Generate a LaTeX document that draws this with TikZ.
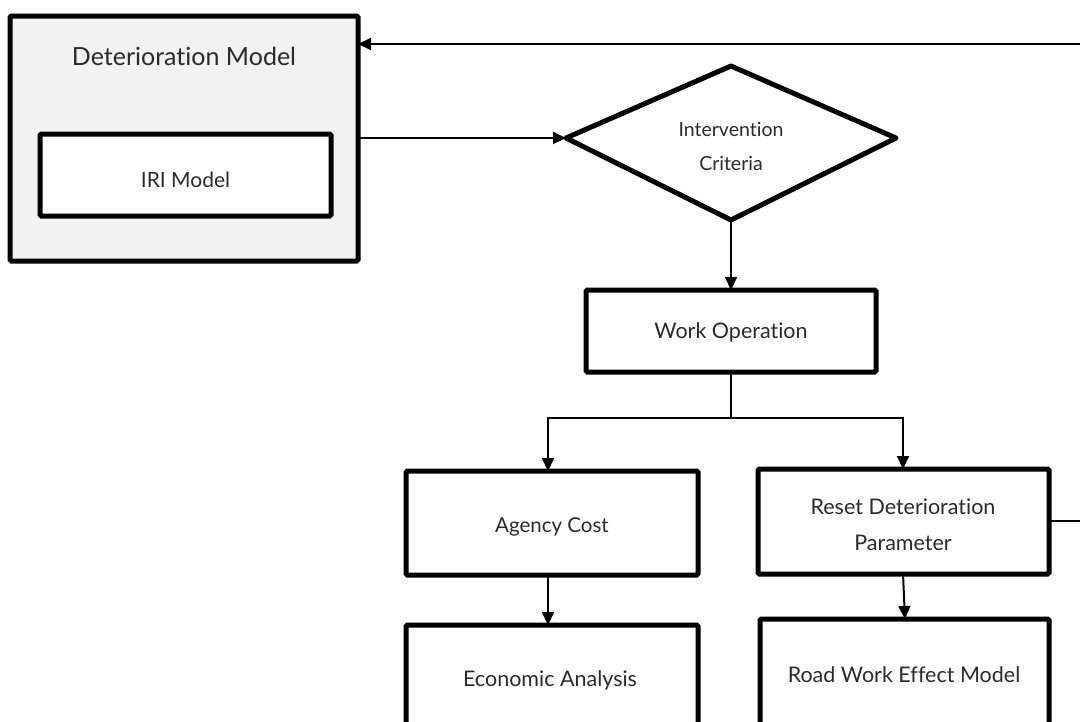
\documentclass[tikz,border=0pt]{standalone}
\usepackage{fontspec}
\setmainfont{Lato}[Ligatures={NoCommon,NoRequired}]
\usetikzlibrary{arrows.meta,shapes.geometric}
\definecolor{txt}{HTML}{2B2B2B}
\definecolor{panel}{HTML}{F2F2F2}
\begin{document}
\begin{tikzpicture}[x=1pt,y=-1pt,
  box/.style={draw=black,line width=5pt,rounded corners=1.5pt,fill=white,inner sep=0pt},
  lbl/.style={text=txt,font=\fontsize{21.5}{24}\selectfont,align=center},
  conn/.style={draw=black,line width=2pt,-{Triangle[length=13pt,width=12pt]}},
  plain/.style={draw=black,line width=2pt}]
\useasboundingbox (0,0) rectangle (1080,721);
\clip (0,0) rectangle (1080,721);
% outer deterioration box
\draw[box,fill=panel] (10,16) rectangle (358,261);
\coordinate (dmR1) at (358,44);
\coordinate (dmR2) at (358,138);
\node[lbl,font=\fontsize{25}{28}\selectfont] (dmt) at (184,56) {Deterioration Model};
\draw[box] (40,134) rectangle (331,216);
\node[lbl,font=\fontsize{21}{24}\selectfont] (iri) at (185.5,180) {IRI Model};
% diamond
\draw[draw=black,line width=5pt,line join=round,fill=white]
  (566,138) coordinate (dL) -- (731,66) coordinate (dT) -- (896,138) coordinate (dR) -- (731,220) coordinate (dB) -- cycle;
\node[lbl,font=\fontsize{19.5}{34}\selectfont] (ic) at (731,146) {Intervention\\Criteria};
% work operation
\draw[box] (586,290) rectangle (876,372);
\coordinate (woT) at (731,290);
\coordinate (woB) at (731,372);
\node[lbl] (wo) at (731,332) {Work Operation};
% agency cost
\draw[box] (406,471) rectangle (698,575);
\coordinate (acT) at (548,471);
\coordinate (acB) at (548,575);
\node[lbl,font=\fontsize{20.5}{24}\selectfont] (ac) at (552,527) {Agency Cost};
% reset
\draw[box] (758,469) rectangle (1049,574);
\coordinate (rsT) at (903,469);
\coordinate (rsB) at (903,574);
\coordinate (rsR) at (1049,521);
\node[lbl,font=\fontsize{21.5}{36}\selectfont] (rs) at (903,525) {Reset Deterioration\\Parameter};
% economic
\draw[box] (406,625) rectangle (698,760);
\coordinate (ecT) at (548,625);
\node[lbl] (ec) at (550,680) {Economic Analysis};
% road work
\draw[box] (760,619) rectangle (1049,760);
\coordinate (rwT) at (905,619);
\node[lbl] (rw) at (904,675) {Road Work Effect Model};
% connectors
\coordinate (edgeTop) at (1082,44);
\coordinate (edgeRs) at (1082,521);
\coordinate (split) at (731,418);
\draw[conn] (edgeTop) -- (dmR1);
\draw[conn] (dmR2) -- (dL);
\draw[conn] (dB) -- (woT);
\draw[plain] (woB) -- (split);
\draw[conn] (split) -| (acT);
\draw[conn] (split) -| (rsT);
\draw[conn] (acB) -- (ecT);
\draw[conn] (rsB) -- (rwT);
\draw[plain] (rsR) -- (edgeRs);
\end{tikzpicture}
\end{document}
